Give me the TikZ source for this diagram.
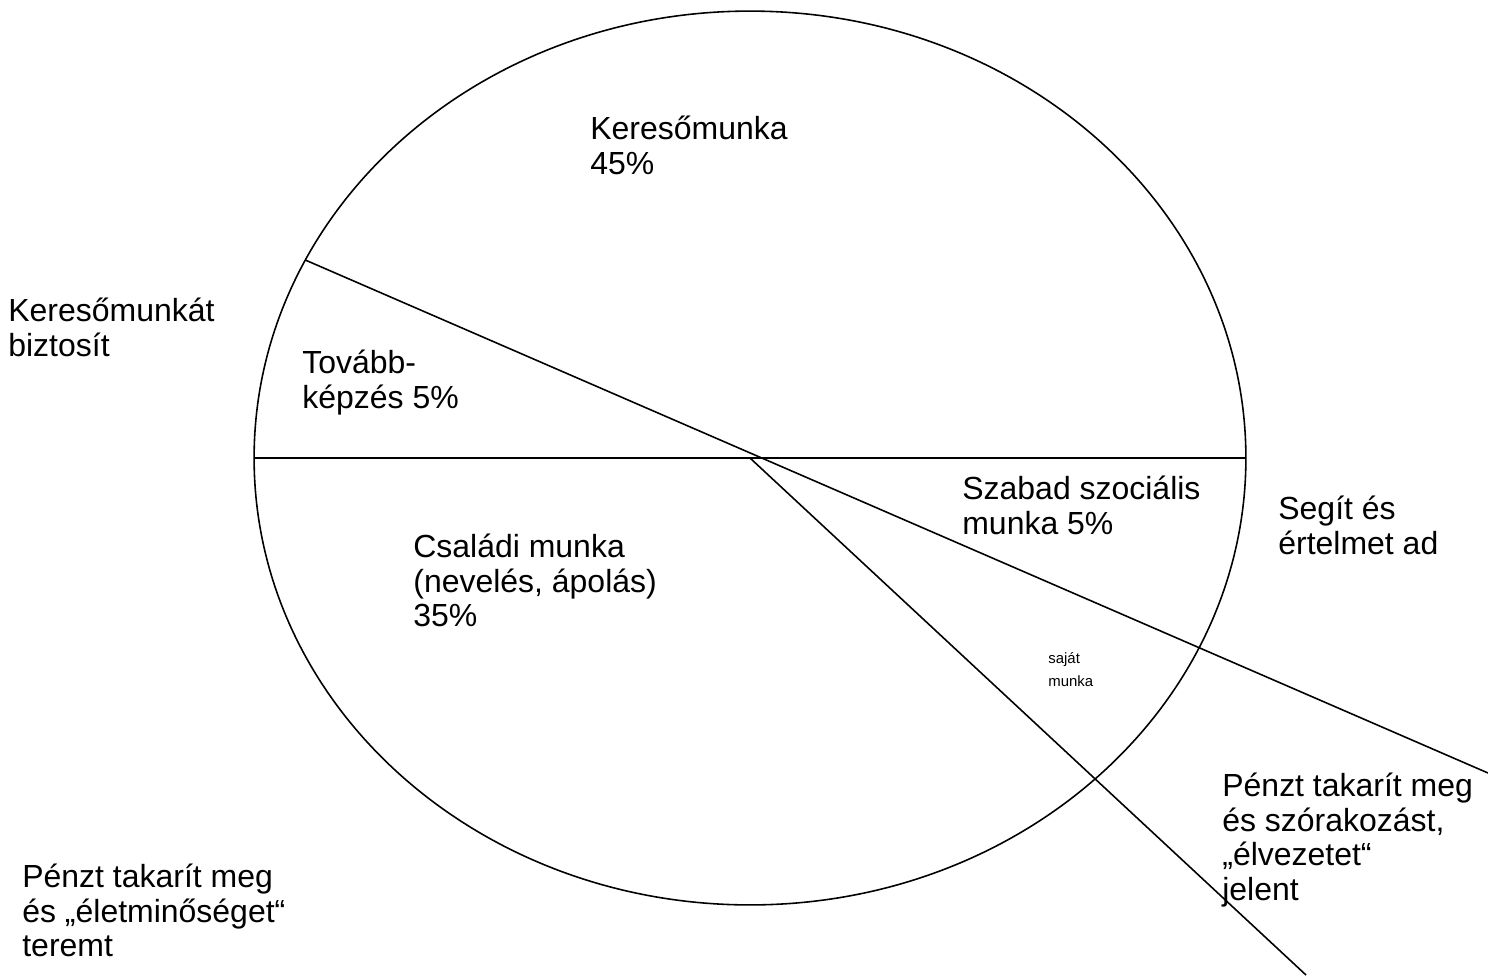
\documentclass[tikz,border=0pt]{standalone}
\usepackage{fontspec}
\setmainfont{Liberation Sans}
\usetikzlibrary{shapes.geometric}

\begin{document}
\begin{tikzpicture}[x=0.02cm,y=-0.02cm]
  \tikzset{txt/.style = {anchor=north west, inner sep=0pt, align=left,
      font=\fontsize{18.2}{19.6}\selectfont}}
  \tikzset{smalltxt/.style = {txt, font=\fontsize{8.5}{13}\selectfont}}
  \tikzset{line/.style = {draw, line width=0.9pt}}

  \useasboundingbox (0,0) rectangle (1488,975);

  \node[ellipse, line, minimum width=19.84cm, minimum height=17.88cm,
  inner sep=0pt, outer sep=0pt] (pie) at (750,458) {};

  %%%%%%%%%%%%

  \coordinate (far) at (1488,773);
  \coordinate (low) at (1306,975);

  \path (pie.west) edge[line] (pie.east);
  \path (pie.156.9) edge[line] (far);
  \path (pie.center) edge[line] (low);

  %%%%%%%%%%%%

  \node[txt] (kmunka) at (590,116) {Keresőmunka\\45\%};
  \node[txt] (tovabb) at (302,350) {Tovább-\\képzés 5\%};
  \node[txt] (szabad) at (962,476) {Szabad szociális\\munka 5\%};
  \node[txt] (csalad) at (413,534) {Családi munka\\(nevelés, ápolás)\\35\%};
  \node[smalltxt] (sajat) at (1048,652) {saját\\munka};

  %%%%%%%%%%%%

  \node[txt] (biztosit) at (8,298) {Keresőmunkát\\biztosít};
  \node[txt] (segit) at (1278,496) {Segít és\\értelmet ad};
  \node[txt] (elvezet) at (1222,773) {Pénzt takarít meg\\és szórakozást,\\„élvezetet“\\jelent};
  \node[txt] (minoseg) at (22,864) {Pénzt takarít meg\\és „életminőséget“\\teremt};

\end{tikzpicture}
\end{document}
